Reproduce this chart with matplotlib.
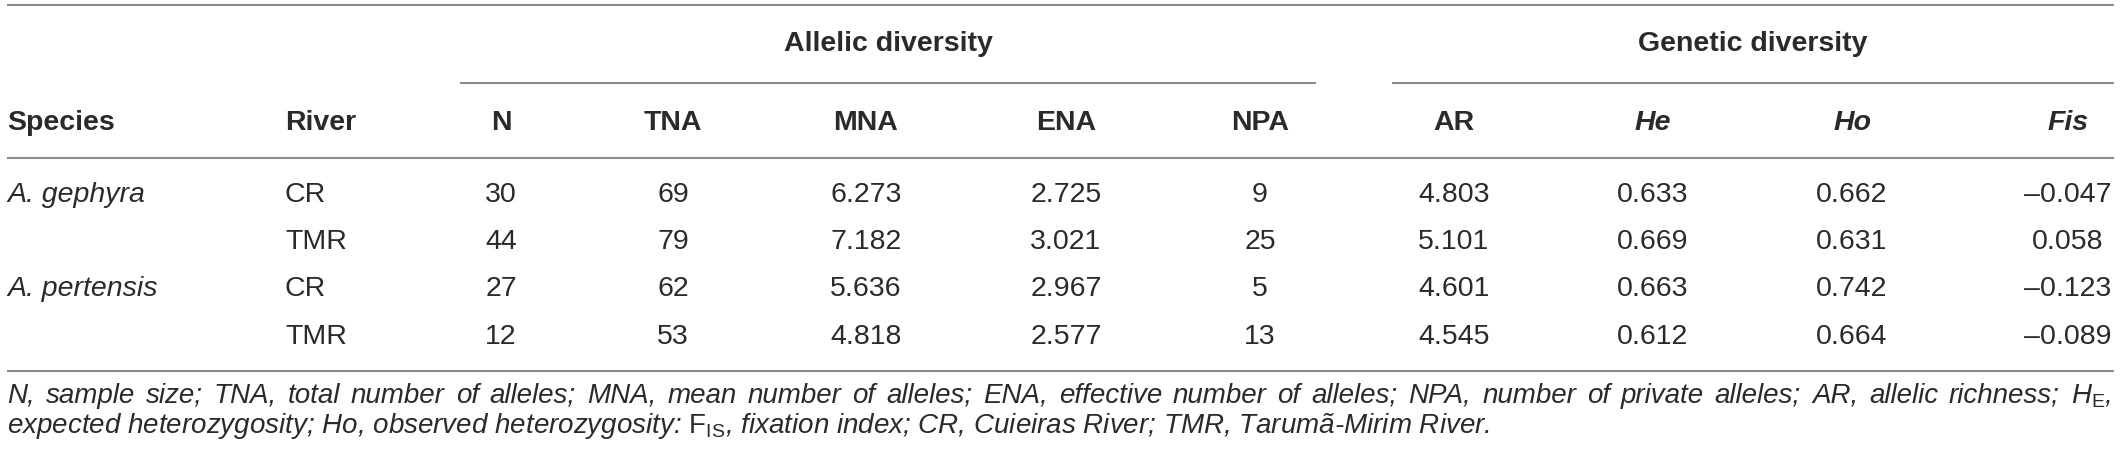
import matplotlib
matplotlib.use('Agg')
import matplotlib.pyplot as plt

plt.rcParams['font.family'] = ['Liberation Sans', 'DejaVu Sans']
plt.rcParams['mathtext.fontset'] = 'custom'
plt.rcParams['mathtext.rm'] = 'Liberation Sans'
plt.rcParams['mathtext.it'] = 'Liberation Sans:italic'

# table data
species = ['A. gephyra', '', 'A. pertensis', '']
rivers = ['CR', 'TMR', 'CR', 'TMR']
n = [30, 44, 27, 12]
tna = [69, 79, 62, 53]
mna = [6.273, 7.182, 5.636, 4.818]
ena = [2.725, 3.021, 2.967, 2.577]
npa = [9, 25, 5, 13]
ar = [4.803, 5.101, 4.601, 4.545]
he = [0.633, 0.669, 0.663, 0.612]
ho = [0.662, 0.631, 0.742, 0.664]
fis = [-0.047, 0.058, -0.123, -0.089]

col_names = ['N', 'TNA', 'MNA', 'ENA', 'NPA', 'AR', 'He', 'Ho', 'Fis']
italic_cols = ['He', 'Ho', 'Fis']
groups = ['Allelic diversity', 'Genetic diversity']

footnote1 = ('N, sample size; TNA, total number of alleles; MNA, mean number of alleles; '
             'ENA, effective number of alleles; NPA, number of private alleles; AR, allelic richness; '
             r'$H_{\mathrm{E}}$,')
footnote2 = (r'expected heterozygosity; Ho, observed heterozygosity: $\mathrm{F}_{\mathrm{IS}}$, '
             'fixation index; CR, Cuieiras River; TMR, Tarumã-Mirim River.')


def fmt(v, dec):
    s = f'{v:.{dec}f}'
    return s.replace('-', '\u2013')


columns = [
    [fmt(v, 0) for v in n],
    [fmt(v, 0) for v in tna],
    [fmt(v, 3) for v in mna],
    [fmt(v, 3) for v in ena],
    [fmt(v, 0) for v in npa],
    [fmt(v, 3) for v in ar],
    [fmt(v, 3) for v in he],
    [fmt(v, 3) for v in ho],
    [fmt(v, 3) for v in fis],
]

W, H = 2120, 458
fig = plt.figure(figsize=(W / 100, H / 100), dpi=100)
ax = fig.add_axes([0, 0, 1, 1])
ax.set_xlim(0, W)
ax.set_ylim(H, 0)
ax.axis('off')

txt = '#2a2a2a'
line_c = '#8a8a8a'
fs = 20.5
fs_note = 20

# layout (pixel positions)
col_x = [501, 673, 866, 1066, 1260, 1454, 1653, 1852, 2068]
species_x, river_x = 7, 285
row_y = [195, 242, 289, 337]
y_group, y_head = 44, 123
group_spans = [(460, 1316), (1392, 2114)]

# rules
for y in [5, 158, 371]:
    ax.plot([7, 2114], [y, y], color=line_c, lw=1.5, solid_capstyle='butt')
for (x0, x1), g in zip(group_spans, groups):
    ax.plot([x0, x1], [83, 83], color=line_c, lw=1.5, solid_capstyle='butt')
    ax.text((x0 + x1) / 2, y_group, g, ha='center', va='center',
            fontsize=fs, fontweight='bold', color=txt)

# headers
ax.text(species_x, y_head, 'Species', ha='left', va='center', fontsize=fs,
        fontweight='bold', color=txt)
ax.text(river_x, y_head, 'River', ha='left', va='center', fontsize=fs,
        fontweight='bold', color=txt)
for x, name in zip(col_x, col_names):
    ax.text(x, y_head, name, ha='center', va='center', fontsize=fs, fontweight='bold',
            fontstyle='italic' if name in italic_cols else 'normal', color=txt)

# body
for i, y in enumerate(row_y):
    if species[i]:
        ax.text(species_x, y, species[i], ha='left', va='center', fontsize=fs,
                fontstyle='italic', color=txt)
    ax.text(river_x, y, rivers[i], ha='left', va='center', fontsize=fs, color=txt)
    for x, col in zip(col_x, columns):
        ax.text(x, y, col[i], ha='center', va='center', fontsize=fs, color=txt)

# footnote, first line justified to the table width
renderer = fig.canvas.get_renderer()
words = footnote1.split(' ')
items = []
for w in words:
    t = ax.text(0, 403, w, ha='left', va='baseline', fontsize=fs_note,
                fontstyle='italic', color=txt)
    items.append((t, t.get_window_extent(renderer).width))
total = sum(wd for _, wd in items)
gap = (2111 - 7 - total) / (len(items) - 1)
x = 7
for t, wd in items:
    t.set_x(x)
    x += wd + gap
ax.text(7, 433, footnote2, ha='left', va='baseline', fontsize=fs_note,
        fontstyle='italic', color=txt)

fig.savefig('out.png', dpi=100)
